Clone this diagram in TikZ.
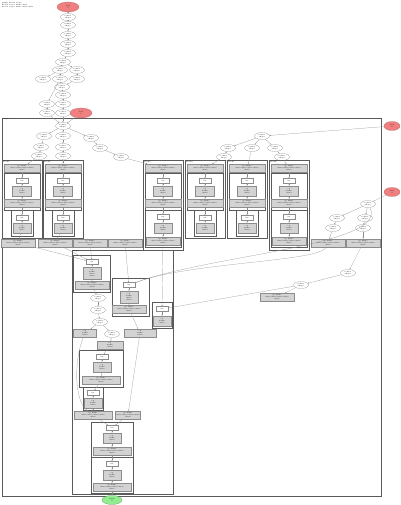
\documentclass[tikz,border=0pt]{standalone}
\usepackage{tikz}
\usetikzlibrary{arrows.meta,positioning,shapes.geometric}
\definecolor{coral}{HTML}{F08080}
\definecolor{lime}{HTML}{90EE90}
\definecolor{opgray}{HTML}{D3D3D3}
\definecolor{edgegray}{HTML}{8C8C8C}
\definecolor{frame}{HTML}{5A5A5A}
\newcommand{\tinyfont}{\fontsize{1.8}{2.1}\selectfont}
\newcommand{\tensortext}{tensor\\shape}
\newcommand{\optext}{op\\name\\attrs}
\newcommand{\widetext}{op name\\attrs attrs attrs attrs\\attrs}

\begin{document}
\begin{tikzpicture}[
  x=1pt,y=-1pt,
  every node/.style={font=\tinyfont,align=center,inner sep=0.4pt},
  tensor/.style={ellipse,draw=edgegray,line width=0.2pt,
                 minimum width=15pt,minimum height=7pt},
  feed/.style={tensor,fill=coral,draw=coral!70!black,
               minimum width=22pt,minimum height=10pt},
  fetch/.style={tensor,fill=lime,draw=lime!60!black,
                minimum width=20pt,minimum height=9pt},
  op/.style={rectangle,draw=edgegray,fill=opgray,line width=0.2pt,
             minimum width=18pt,minimum height=10pt},
  wideop/.style={op,minimum width=34pt,minimum height=8pt},
  var/.style={rectangle,draw=edgegray,line width=0.2pt,
              minimum width=12pt,minimum height=5pt},
  grp/.style={draw=frame,line width=0.5pt},
  grplabel/.style={anchor=north west,align=left,inner sep=0.6pt},
  arr/.style={-{Latex[length=1.3pt,width=1pt]},line width=0.2pt,edgegray}
]
\useasboundingbox[fill=white] (0,0) rectangle (400,505);

\node[grplabel] (title) at (1,1) {graph model scope\\model scope name attrs\\model scope name attrs attrs};

% feed chain on top
\node[feed] (t0) at (68,7) {feed\\0};
\node[tensor] (t1) at (68,17) {\tensortext};
\node[tensor] (t2) at (68,25) {\tensortext};
\node[tensor] (t3) at (68,35) {\tensortext};
\node[tensor] (t4) at (68,44) {\tensortext};
\node[tensor] (t5) at (68,53) {\tensortext};
\node[tensor] (t6) at (63,62) {\tensortext};
\node[tensor] (t7) at (60,70) {\tensortext};
\node[tensor] (t8) at (77,70) {\tensortext};
\node[tensor] (t9) at (43,79) {\tensortext};
\node[tensor] (t10) at (60,79) {\tensortext};
\node[tensor] (t11) at (77,79) {\tensortext};
\node[tensor] (t12) at (62,87) {\tensortext};
\node[tensor] (t13) at (63,95) {\tensortext};
\node[tensor] (t14) at (47,104) {\tensortext};
\node[tensor] (t15) at (63,104) {\tensortext};
\node[tensor] (t16) at (47,113) {\tensortext};
\node[tensor] (t17) at (63,113) {\tensortext};
\node[feed] (r1) at (81,113) {feed\\1};

% outer scope
\draw[grp] (2,118) rectangle (381,496);
\node[grplabel] (outer) at (2,118) {scope};
\node[feed,minimum width=16pt,minimum height=9pt] (r2) at (392,126) {feed\\2};
\node[feed,minimum width=16pt,minimum height=9pt] (r3) at (392,192) {feed\\3};

\node[tensor] (u0) at (63,126) {\tensortext};
\node[tensor] (u1) at (44,136) {\tensortext};
\node[tensor] (u2) at (63,136) {\tensortext};
\node[tensor] (u3) at (91,138) {\tensortext};
\node[tensor] (u4) at (41,147) {\tensortext};
\node[tensor] (u5) at (63,147) {\tensortext};
\node[tensor] (u6) at (100,148) {\tensortext};
\node[tensor] (u7) at (39,156) {\tensortext};
\node[tensor] (u8) at (63,156) {\tensortext};
\node[tensor] (u9) at (121,157) {\tensortext};

\node[tensor] (v0) at (262,136) {\tensortext};
\node[tensor] (v1) at (228,148) {\tensortext};
\node[tensor] (v2) at (252,148) {\tensortext};
\node[tensor] (v3) at (275,148) {\tensortext};
\node[tensor] (v4) at (224,157) {\tensortext};
\node[tensor] (v5) at (282,157) {\tensortext};

\node[tensor] (w0) at (368,204) {\tensortext};
\node[tensor] (w1) at (337,218) {\tensortext};
\node[tensor] (w2) at (365,218) {\tensortext};
\node[tensor] (w3) at (333,228) {\tensortext};
\node[tensor] (w4) at (363,228) {\tensortext};

% six blocks in the top row
\foreach \i/\cx/\cb in {1/22/238,2/63/238,3/163/250,4/205/238,5/247/238,6/289/250}{
  \draw[grp] (\cx-20,160) rectangle (\cx+20,\cb);
  \node[grplabel] (lab\i) at (\cx-20,160) {block\i};
  \node[wideop,minimum width=36pt] (top\i) at (\cx,168) {\widetext};
  \draw[grp] (\cx-18,173) rectangle (\cx+18,210);
  \node[var] (wt\i) at (\cx,181) {var};
  \node[op,minimum width=19pt] (gt\i) at (\cx,191) {\optext};
  \node[wideop,minimum width=36pt] (gw\i) at (\cx,203) {\widetext};
}
\foreach \i/\cx in {1/22,2/63,4/205,5/247}{
  \draw[grp] (\cx-11,210) rectangle (\cx+11,236);
  \node[var] (wl\i) at (\cx,218) {var};
  \node[op] (gl\i) at (\cx,228) {\optext};
}
\foreach \i/\cx in {3/163,6/289}{
  \draw[grp] (\cx-18,210) rectangle (\cx+18,247);
  \node[var] (wl\i) at (\cx,217) {var};
  \node[op] (gl\i) at (\cx,228) {\optext};
  \node[wideop] (gb\i) at (\cx,241) {\widetext};
  \draw[arr] (gl\i) -- (gb\i);
}
\foreach \i in {1,...,6}{
  \draw[arr] (top\i) edge (wt\i) (wt\i) edge (gt\i) (gt\i) edge (gw\i)
             (gw\i) edge (wl\i) (wl\i) edge (gl\i);
}

% row of ops under the blocks
\node[wideop] (b1) at (18,243) {\widetext};
\node[wideop] (b2) at (55,243) {\widetext};
\node[wideop] (b3) at (90,243) {\widetext};
\node[wideop] (b4) at (125,243) {\widetext};
\node[wideop] (b5) at (328,243) {\widetext};
\node[wideop] (b6) at (363,243) {\widetext};

% lower scope
\draw[grp] (72,250) rectangle (173,494);
\node[grplabel] (lower) at (72,250) {scope};
\draw[grp] (73,255) rectangle (110,292);
\node[var] (a1) at (92,262) {var};
\node[op,minimum height=12pt] (a2) at (92,273) {\optext\\attrs};
\node[wideop] (a3) at (92,285) {\widetext};
\draw[grp] (112,278) rectangle (149,316);
\node[var] (c1) at (129,285) {var};
\node[op,minimum height=12pt] (c2) at (129,297) {\optext\\attrs};
\node[wideop] (c3) at (129,309) {\widetext};
\draw[grp] (152,302) rectangle (172,328);
\node[var] (d1) at (162,309) {var};
\node[op] (d2) at (162,321) {\optext};

\node[tensor] (e1) at (98,298) {\tensortext};
\node[tensor] (e2) at (98,310) {\tensortext};
\node[tensor] (e3) at (100,322) {\tensortext};
\node[tensor] (e4) at (112,334) {\tensortext};
\node[op,minimum width=23pt,minimum height=8pt] (f1) at (85,333) {\optext};
\node[op,minimum width=32pt,minimum height=8pt] (f2) at (140,333) {\optext};
\node[op,minimum width=26pt,minimum height=8pt] (f3) at (110,345) {\optext};

\draw[grp] (79,350) rectangle (123,387);
\node[var] (g1) at (102,357) {var};
\node[op] (g2) at (102,367) {\optext};
\node[wideop,minimum width=38pt] (g3) at (101,380) {\widetext};
\draw[grp] (83,387) rectangle (103,410);
\node[var] (h1) at (93,393) {var};
\node[op] (h2) at (93,403) {\optext};
\node[wideop,minimum width=38pt] (k1) at (93,415) {\widetext};
\node[wideop,minimum width=25pt] (k2) at (128,415) {\widetext};

\draw[grp] (91,422) rectangle (133,457);
\node[var] (m1) at (112,428) {var};
\node[op] (m2) at (112,438) {\optext};
\node[wideop,minimum width=38pt] (m3) at (112,451) {\widetext};
\draw[grp] (91,457) rectangle (133,493);
\node[var] (n1) at (112,464) {var};
\node[op] (n2) at (112,475) {\optext};
\node[wideop,minimum width=38pt] (n3) at (112,487) {\widetext};
\node[fetch] (out) at (112,500) {fetch\\0};

% right branch
\node[tensor] (p1) at (348,273) {\tensortext};
\node[tensor] (p2) at (301,285) {\tensortext};
\node[wideop] (p3) at (277,297) {\widetext};

% edges
\draw[arr] (t0) edge (t1) (t1) edge (t2) (t2) edge (t3) (t3) edge (t4)
  (t4) edge (t5) (t5) edge (t6) (t6) edge (t7) (t6) edge (t8)
  (t7) edge (t10) (t7) edge (t9) (t8) edge (t11) (t10) edge (t12)
  (t11) edge (t12) (t12) edge (t13) (t13) edge (t15) (t10) edge (t14)
  (t14) edge (t16) (t15) edge (t17) (t16) edge (u0) (t17) edge (u0)
  (r1) edge (u0);
\draw[arr] (u0) edge (u1) (u0) edge (u2) (u0) edge (u3)
  (u1) edge (u4) (u2) edge (u5) (u3) edge (u6)
  (u4) edge (u7) (u5) edge (u8) (u6) edge (u9)
  (u7) edge (top1) (u8) edge (top2) (u9) edge (top3);
\draw[arr] (r2) edge (v0) (v0) edge (v1) (v0) edge (v2) (v0) edge (v3)
  (v1) edge (v4) (v3) edge (v5)
  (v4) edge (top4) (v2) edge (top5) (v5) edge (top6);
\draw[arr] (r3) edge (w0) (w0) edge (w1) (w0) edge (w2)
  (w1) edge (w3) (w2) edge (w4) (w3) edge (b5) (w4) edge (b6);
\draw[arr] (gl1) edge (b1) (gl2) edge (b2)
  (b1) edge (a1) (b2) edge (a1) (b3) edge (a1) (b4) edge (c1)
  (gb3) edge (d1);
\draw[arr] (w0) .. controls (390,245) and (210,255) .. (c1);
\draw[arr] (b5) .. controls (320,262) and (190,262) .. (c1);
\draw[arr] (b6) edge (p1) (p1) edge (p2) (p2) edge (p3) (p2) edge (d1);
\draw[arr] (a1) edge (a2) (a2) edge (a3) (a3) edge (e1) (e1) edge (e2)
  (e2) edge (e3) (e3) edge (f1) (e3) edge (e4)
  (c1) edge (c2) (c2) edge (c3) (c3) edge (f2) (d1) edge (d2)
  (e4) edge (f3) (f3) edge (g1) (g1) edge (g2) (g2) edge (g3)
  (g3) edge (h1) (h1) edge (h2) (h2) edge (k1) (f2) edge (k2)
  (k1) edge (m1) (k2) edge (m1) (m1) edge (m2) (m2) edge (m3)
  (m3) edge (n1) (n1) edge (n2) (n2) edge (n3) (n3) edge (out);
\draw[arr] (f1) .. controls (74,360) and (74,400) .. (k1);
\end{tikzpicture}
\end{document}
